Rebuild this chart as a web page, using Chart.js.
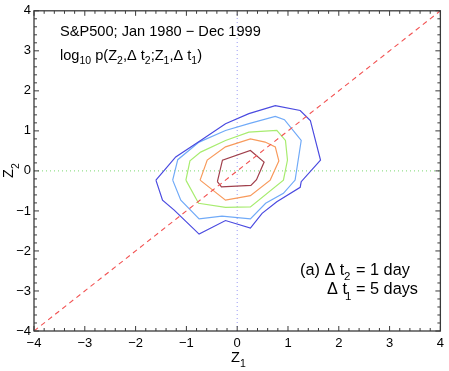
<!DOCTYPE html>
<html><head><meta charset="utf-8">
<script src="https://cdn.jsdelivr.net/npm/chart.js@4"></script>
<style>html,body{margin:0;padding:0;background:#fff}#wrap{width:449px;height:371px;position:relative}</style>
</head><body><div id="wrap"><canvas id="c" width="449" height="371"></canvas></div>
<script>
// Tick values (both axes)
const tickValues = [-4, -3, -2, -1, 0, 1, 2, 3, 4];

// Contour levels (outermost to innermost)
const c1x = [-1.60,-1.47,-1.24,-0.75,-0.23,0.26,0.49,0.78,1.24,1.26,1.64,1.44,1.24,0.75,0.23,-0.23,-0.72,-1.21];
const c1y = [-0.23,-0.73,-0.98,-1.58,-1.24,-1.43,-1.06,-0.77,-0.41,-0.27,0.27,1.26,1.51,1.63,1.43,1.18,0.76,0.35];

const c2x = [-1.27,-1.11,-0.75,-0.30,0.26,0.56,0.91,1.14,1.26,0.93,0.75,0.23,-0.23,-0.75,-1.17];
const c2y = [-0.23,-0.73,-1.20,-1.13,-1.20,-0.81,-0.56,-0.23,0.76,1.28,1.36,1.18,1.01,0.72,0.28];

const c3x = [-1.01,-0.76,-0.23,0.26,0.91,0.99,0.95,0.78,0.23,-0.23,-0.72,-0.93];
const c3y = [-0.23,-0.81,-0.91,-0.90,-0.23,0.27,0.76,1.01,0.97,0.76,0.47,0.25];

const c4x = [-0.73,-0.23,0.26,0.65,0.82,0.75,0.55,0.26,-0.23,-0.59];
const c4y = [-0.23,-0.73,-0.62,-0.23,0.25,0.60,0.72,0.80,0.60,0.27];

const c5x = [-0.39,-0.31,0.27,0.38,0.53,0.26,-0.29,-0.34];
const c5y = [-0.27,-0.40,-0.36,-0.22,0.22,0.51,0.27,0.00];

const contourColors = ['#4a4ae0','#70aaf8','#a8ec70','#f89a5c','#a0404c'];

// Reference lines
const diagX = [-4, 4], diagY = [-4, 4];
const zeroHX = [-4, 4], zeroHY = [0, 0];
const zeroVX = [0, 0], zeroVY = [-4, 4];

function pts(xs, ys, close) {
  const d = xs.map((v, i) => ({x: v, y: ys[i]}));
  if (close) d.push({x: xs[0], y: ys[0]});
  return d;
}

const contours = [[c1x,c1y],[c2x,c2y],[c3x,c3y],[c4x,c4y],[c5x,c5y]];
const datasets = [];
datasets.push({data: pts(zeroHX, zeroHY), borderColor: '#7ad870', borderWidth: 1, borderDash: [1, 3], order: 5});
datasets.push({data: pts(zeroVX, zeroVY), borderColor: '#9a9cf4', borderWidth: 1, borderDash: [1, 3], order: 5});
contours.forEach((c, i) => datasets.push({data: pts(c[0], c[1], true), borderColor: contourColors[i], borderWidth: 1.2, order: 2}));
datasets.push({data: pts(diagX, diagY), borderColor: '#f25252', borderWidth: 1.1, borderDash: [5, 4], order: 1});
datasets.forEach(d => { d.showLine = true; d.pointRadius = 0; d.fill = false; d.tension = 0; });

const FONT = '"Liberation Sans", Arial, Helvetica, sans-serif';
const fmt = v => (v < 0 ? '\u2212' + Math.abs(v) : String(v));

function drawRich(ctx, x, y, segs) {
  let cx = x;
  segs.forEach(s => {
    ctx.font = (s.size) + 'px ' + FONT;
    if (s.at !== undefined) cx = s.at;
    ctx.fillText(s.t, cx, y + (s.dy || 0));
    cx += ctx.measureText(s.t).width + (s.gap || 0);
  });
}

const decor = {
  id: 'decor',
  afterDatasetsDraw(chart) {
    const {ctx, chartArea: a, scales: {x, y}} = chart;
    ctx.save();
    ctx.strokeStyle = '#3a3a3a';
    ctx.lineWidth = 1.3;
    ctx.strokeRect(a.left, a.top, a.right - a.left, a.bottom - a.top);
    ctx.lineWidth = 1;
    ctx.beginPath();
    for (let i = 0; i <= 40; i++) {
      const v = -4 + i * 0.2;
      const L = (i % 5 === 0) ? 5 : 3;
      const px = x.getPixelForValue(v), py = y.getPixelForValue(v);
      ctx.moveTo(px, a.bottom); ctx.lineTo(px, a.bottom - L);
      ctx.moveTo(px, a.top); ctx.lineTo(px, a.top + L);
      ctx.moveTo(a.left, py); ctx.lineTo(a.left + L, py);
      ctx.moveTo(a.right, py); ctx.lineTo(a.right - L, py);
    }
    ctx.stroke();

    ctx.fillStyle = '#000';
    ctx.textBaseline = 'alphabetic';
    ctx.textAlign = 'left';
    const B = 14.6, S = 10.5;
    drawRich(ctx, 60, 36, [{t: 'S&P500; Jan 1980 \u2212 Dec 1999', size: B}]);
    drawRich(ctx, 60, 60, [
      {t: 'log', size: B}, {t: '10', size: S, dy: 4, gap: 4}, {t: 'p(Z', size: B}, {t: '2', size: S, dy: 4},
      {t: ',\u0394 t', size: B}, {t: '2', size: S, dy: 4}, {t: ';Z', size: B}, {t: '1', size: S, dy: 4},
      {t: ',\u0394 t', size: B}, {t: '1', size: S, dy: 4}, {t: ')', size: B}
    ]);
    const M = 16.3, MS = 11.5;
    drawRich(ctx, 300, 275, [
      {t: '(a) \u0394 t', size: M}, {t: '2', size: MS, dy: 5, at: 344}, {t: '= 1 day', size: M, at: 356}
    ]);
    drawRich(ctx, 327, 294, [
      {t: '\u0394 t', size: M}, {t: '1', size: MS, dy: 6, at: 345}, {t: '= 5 days', size: M, at: 356}
    ]);

    // axis titles
    drawRich(ctx, 231, 362, [{t: 'Z', size: B}, {t: '1', size: S, dy: 5}]);
    ctx.save();
    ctx.translate(13, 178);
    ctx.rotate(-Math.PI / 2);
    drawRich(ctx, 0, 0, [{t: 'Z', size: B}, {t: '2', size: S, dy: 6}]);
    ctx.restore();
    ctx.restore();
  }
};

const tickOpts = {
  color: '#000',
  font: {family: FONT, size: 13},
  callback: v => fmt(v),
  autoSkip: false,
  maxRotation: 0
};

new Chart(document.getElementById('c'), {
  type: 'scatter',
  data: {datasets},
  options: {
    responsive: false,
    animation: false,
    devicePixelRatio: 1,
    layout: {padding: {left: 0, right: 6, top: 10, bottom: 0}},
    plugins: {legend: {display: false}, tooltip: {enabled: false}},
    scales: {
      x: {
        type: 'linear', min: -4, max: 4,
        afterBuildTicks: s => { s.ticks = tickValues.map(v => ({value: v})); },
        afterFit: s => { s.height = 40; },
        grid: {display: false, drawTicks: false}, border: {display: false},
        ticks: Object.assign({}, tickOpts, {padding: 5})
      },
      y: {
        type: 'linear', min: -4, max: 4,
        afterBuildTicks: s => { s.ticks = tickValues.map(v => ({value: v})); },
        afterFit: s => { s.width = 34; },
        grid: {display: false, drawTicks: false}, border: {display: false},
        ticks: Object.assign({}, tickOpts, {padding: 3})
      }
    }
  },
  plugins: [decor]
});
</script>
</body></html>
